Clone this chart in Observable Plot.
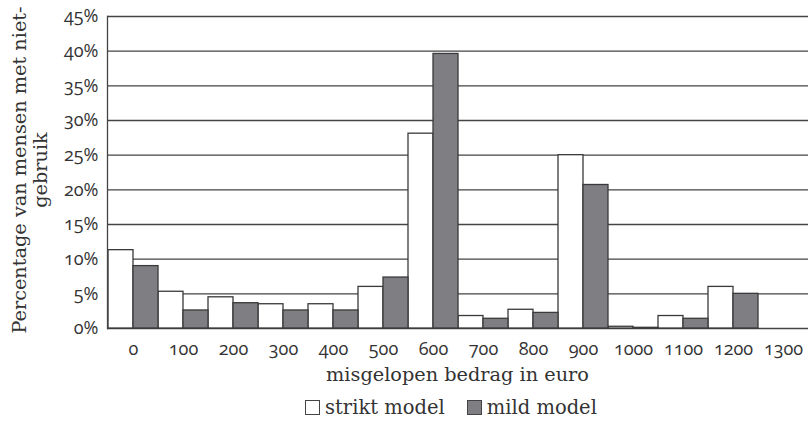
<!DOCTYPE html>
<html><head><meta charset="utf-8">
<script src="https://cdn.jsdelivr.net/npm/d3@7"></script>
<script src="https://cdn.jsdelivr.net/npm/@observablehq/plot@0.6"></script>
<style>
body{margin:0;background:#fff;font-family:"DejaVu Serif";color:#333;}
#chart svg{display:block;}
#chart svg text{font-family:'Open Sans' !important;font-size:18px !important;font-variant-numeric:oldstyle-nums !important;font-feature-settings:'onum' 1 !important;fill:#333;}
#chart svg text.ttl{font-family:'DejaVu Serif' !important;font-size:19.3px !important;}
#legend{width:809px;height:27px;position:relative;font-size:19.5px;line-height:27px;}
#legend .inner{position:absolute;left:305px;top:-1px;white-space:nowrap;}
.sw{display:inline-block;width:15px;height:15px;border:1px solid #444;margin-right:5px;vertical-align:-1px;box-sizing:border-box;}
.item{margin-right:22px;}
</style></head><body><div id="chart"></div><div id="legend"><div class="inner"></div></div>
<script>
const categories = ["0","100","200","300","400","500","600","700","800","900","1000","1100","1200","1300"];
const strikt = [11.3, 5.3, 4.5, 3.5, 3.5, 6.0, 28.1, 1.8, 2.7, 25.0, 0.25, 1.8, 6.0, 0];
const mild   = [9.0, 2.6, 3.65, 2.6, 2.6, 7.35, 39.6, 1.4, 2.25, 20.7, 0.1, 1.4, 5.0, 0];
const yTicks = [0, 5, 10, 15, 20, 25, 30, 35, 40, 45];
const series = ["strikt model", "mild model"];
const colors = ["#ffffff", "#7f7f83"];
const xTitle = "misgelopen bedrag in euro";
const yTitle = ["Percentage van mensen met niet-", "gebruik"];

const dataS = categories.map((c, i) => ({cat: c, value: strikt[i]}));
const dataM = categories.map((c, i) => ({cat: c, value: mild[i]}));

const plot = Plot.plot({
  width: 809, height: 395,
  marginLeft: 107, marginRight: 1, marginTop: 16, marginBottom: 67,
  style: {background: "#fff", color: "#333"},
  x: {type: "band", domain: categories, padding: 0, label: null, tickSize: 0, tickPadding: 14},
  y: {domain: [0, 45], ticks: yTicks, tickFormat: d => d + "%", tickSize: 0, tickPadding: 9, label: null},
  marks: [
    Plot.ruleY(yTicks, {stroke: "#444", strokeWidth: 1.3}),
    Plot.barY(dataS, {x: "cat", y: "value", fill: colors[0], stroke: "#3a3a3a", strokeWidth: 1.3, insetRight: 25}),
    Plot.barY(dataM, {x: "cat", y: "value", fill: colors[1], stroke: "#3a3a3a", strokeWidth: 1.3, insetLeft: 25}),
    Plot.frame({anchor: "left", stroke: "#444", strokeWidth: 1.3})
  ]
});
document.getElementById("chart").appendChild(plot);

const svg = d3.select(plot);
const xs = plot.scale("x"), ys = plot.scale("y");
const cx = (xs.range[0] + xs.range[1]) / 2;
const cy = (ys.range[0] + ys.range[1]) / 2;
svg.append("text").attr("class", "ttl").attr("x", cx).attr("y", 381).attr("text-anchor", "middle").text(xTitle);
yTitle.forEach((t, i) => {
  svg.append("text").attr("class", "ttl").attr("transform", `translate(${26 + i * 21},${cy - 2}) rotate(-90)`)
    .attr("text-anchor", "middle").text(t);
});

const lg = d3.select("#legend .inner");
series.forEach((s, i) => {
  const it = lg.append("span").attr("class", "item");
  it.append("span").attr("class", "sw").style("background", colors[i]);
  it.append("span").text(s);
});
</script>
</body></html>
